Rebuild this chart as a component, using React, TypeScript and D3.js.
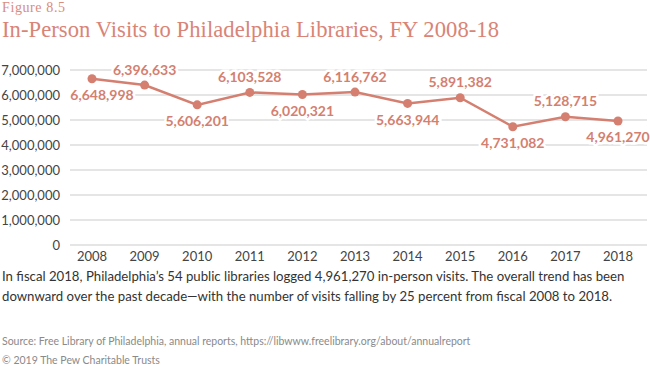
import * as d3 from 'd3'

const years = ['2008', '2009', '2010', '2011', '2012', '2013', '2014', '2015', '2016', '2017', '2018']
const visits = [6648998, 6396633, 5606201, 6103528, 6020321, 6116762, 5663944, 5891382, 4731082, 5128715, 4961270]
const yTicks = [0, 1000000, 2000000, 3000000, 4000000, 5000000, 6000000, 7000000]

const figureLabel = 'Figure 8.5'
const title = 'In-Person Visits to Philadelphia Libraries, FY 2008-18'
const notes = [
    'In fiscal 2018, Philadelphia\u2019s 54 public libraries logged 4,961,270 in-person visits. The overall trend has been',
    'downward over the past decade\u2014with the number of visits falling by 25 percent from fiscal 2008 to 2018.',
]
const source = 'Source: Free Library of Philadelphia, annual reports, https://libwww.freelibrary.org/about/annualreport'
const copyright = '\u00a9 2019 The Pew Charitable Trusts'

const accent = '#d47f70'
const sans = 'Lato, "Open Sans", sans-serif'
const serif = '"Liberation Serif", serif'

const App = () => {
    const svgWidth = 650
    const svgHeight = 366
    const plot = { left: 70, right: 647, top: 70, bottom: 245 }

    const x = d3
        .scalePoint()
        .domain(years)
        .range([92, 618])

    const y = d3
        .scaleLinear()
        .domain([0, 7000000])
        .range([plot.bottom, plot.top])

    const fmt = d3.format(',')

    const line = d3
        .line<number>()
        .x((_, i) => x(years[i]) as number)
        .y(d => y(d))

    return (
        <svg
            width={svgWidth}
            height={svgHeight}
            style={{ position: 'absolute', left: 0, top: 0, background: '#fff' }}
        >
            <text x={2} y={12} fontFamily={serif} fontSize={14} fill='#d98c7e'
                textLength={63} lengthAdjust='spacing'>
                {figureLabel}
            </text>
            <text x={2} y={37} fontFamily={serif} fontSize={22.6} fill='#d98476'
                textLength={497} lengthAdjust='spacing'>
                {title}
            </text>

            {/* grid + y axis */}
            {yTicks.map(t => (
                <g key={t}>
                    <line x1={plot.left} x2={plot.right} y1={y(t)} y2={y(t)} stroke='#dcdcdc' strokeWidth={1.3} />
                    <text
                        x={60}
                        y={y(t)}
                        textAnchor='end'
                        dominantBaseline='central'
                        fontFamily={sans}
                        fontSize={13}
                        fill='#444'
                    >
                        {fmt(t)}
                    </text>
                </g>
            ))}

            {years.map(yr => (
                <text
                    key={yr}
                    x={x(yr)}
                    y={261}
                    textAnchor='middle'
                    fontFamily={sans}
                    fontSize={13}
                    fill='#444'
                >
                    {yr}
                </text>
            ))}

            <path d={line(visits) ?? ''} fill='none' stroke={accent} strokeWidth={2.5} />

            {visits.map((v, i) => (
                <circle key={i} cx={x(years[i])} cy={y(v)} r={4.5} fill={accent} />
            ))}

            {visits.map((v, i) => {
                const below = i % 2 === 0
                return (
                    <text
                        key={i}
                        x={(x(years[i]) as number) + (i === 0 ? 10 : 0)}
                        y={y(v) + (below ? 16 : -16)}
                        textAnchor='middle'
                        dominantBaseline='central'
                        fontFamily={sans}
                        fontWeight={700}
                        fontSize={14}
                        fill={accent}
                        stroke='#fff'
                        strokeWidth={5}
                        paintOrder='stroke'
                    >
                        {fmt(v)}
                    </text>
                )
            })}

            {notes.map((n, i) => (
                <text key={i} x={2} y={281 + i * 20} fontFamily={sans} fontSize={13.2} fill='#333'>
                    {n}
                </text>
            ))}

            <text x={2} y={345} fontFamily={sans} fontSize={10.5} fill='#8a8a8a'>
                {source}
            </text>
            <text x={2} y={364} fontFamily={sans} fontSize={10.5} fill='#8a8a8a'>
                {copyright}
            </text>
        </svg>
    )
}

export default App
